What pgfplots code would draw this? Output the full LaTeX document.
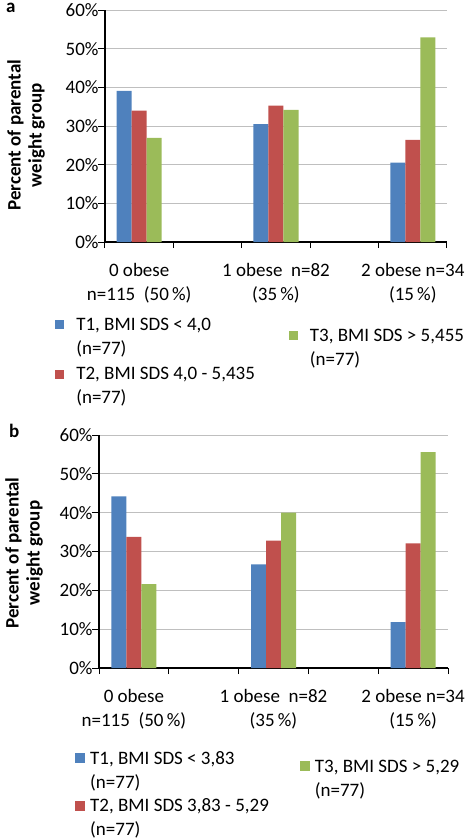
\documentclass[border=0pt]{standalone}
\usepackage{pgfplots}
\pgfplotsset{compat=1.18}
\usepackage{fontspec}
\setmainfont{Carlito}
\definecolor{xblue}{HTML}{4F81BD}
\definecolor{xred}{HTML}{C0504D}
\definecolor{xgreen}{HTML}{9BBB59}
\newcommand{\ff}{\fontsize{19}{24}\selectfont}
\newcommand{\lt}[2]{\vtop{\hbox{\strut #1}\hbox{\strut #2}}}
\pgfplotsset{
  excel/.style={
    scale only axis,
    ybar=0pt, bar width=15pt,
    ymin=0, ymax=60, ytick={0,10,...,60},
    yticklabels={0\%,10\%,20\%,30\%,40\%,50\%,60\%},
    xmin=-0.5, xmax=4.5,
    xtick={0,2,4},
    xticklabels={{0 obese\\n=115~~(50\,\%)},{1 obese~~n=82\\(35\,\%)},{2 obese n=34\\(15\,\%)}},
    minor xtick={-0.5,0.5,...,4.5},
    major x tick style={draw=none},
    minor tick length=6pt,
    major tick length=7pt,
    tick align=outside,
    axis x line*=bottom, axis y line*=left,
    axis line style={-, black, line width=1.2pt},
    tick style={black, line width=1pt},
    ymajorgrids, grid style={gray!50, line width=0.8pt},
    ticklabel style={font=\ff},
    xticklabel style={align=center, yshift=-11pt},
    yticklabel style={xshift=4pt},
    ylabel={Percent of parental\\weight group},
    ylabel style={align=center, font=\bfseries\fontsize{19}{21}\selectfont, inner sep=0pt, anchor=south},
    legend image code/.code={\fill[##1] (0pt,1pt) rectangle (9pt,10pt);},
    legend style={draw=none, fill=none, inner sep=0pt, font=\ff,
      cells={anchor=base west}},
    legend columns=2, transpose legend,
  },
  sqb/.style={legend image code/.code={\fill[##1] (0pt,1pt) rectangle (10pt,11pt);}},
  tthreea/.style={legend image code/.code={\fill[##1] (0pt,-10pt) rectangle (9pt,-1pt);}},
  tthreeb/.style={legend image code/.code={\fill[##1] (0pt,-7pt) rectangle (10pt,3pt);}},
}
\begin{document}
\begin{tikzpicture}
\useasboundingbox (0,0) rectangle (470pt,-840pt);
\node[font=\bfseries\fontsize{19}{22}\selectfont, anchor=base west, inner sep=0pt] at (6pt,-13pt) {a};
\node[font=\bfseries\fontsize{19}{22}\selectfont, anchor=base west, inner sep=0pt] at (9pt,-437pt) {b};
\begin{axis}[excel, at={(105pt,-242pt)}, anchor=south west, width=342pt, height=232pt,
  ylabel style={at={(axis description cs:-0.175,0.461)}},
  legend style={at={(axis description cs:-0.146,-0.298)}, anchor=north west,
    /tikz/every odd column/.append style={column sep=10pt},
    /tikz/every even column/.append style={column sep=32pt},
    row sep=21pt}]
\addplot[fill=xblue, draw=none] coordinates {(0,39.1) (2,30.5) (4,20.5)};
\addplot[fill=xred, draw=none] coordinates {(0,34.0) (2,35.3) (4,26.4)};
\addplot[fill=xgreen, draw=none, tthreea] coordinates {(0,26.9) (2,34.2) (4,52.9)};
\legend{\lt{T1, BMI SDS < 4,0}{(n=77)},\lt{T2, BMI SDS 4,0 - 5,435}{(n=77)},\raisebox{-11pt}[0pt][0pt]{\lt{T3, BMI SDS > 5,455}{(n=77)}}}
\end{axis}
\begin{axis}[excel, at={(99pt,-668pt)}, anchor=south west, width=349pt, height=233pt,
  ylabel style={at={(axis description cs:-0.160,0.494)}},
  legend style={at={(axis description cs:-0.0688,-0.331)}, anchor=north west,
    /tikz/every odd column/.append style={column sep=3pt},
    /tikz/every even column/.append style={column sep=29pt},
    row sep=22pt}]
\addplot[fill=xblue, draw=none, sqb] coordinates {(0,44.2) (2,26.7) (4,11.8)};
\addplot[fill=xred, draw=none, sqb] coordinates {(0,33.8) (2,32.8) (4,32.1)};
\addplot[fill=xgreen, draw=none, tthreeb] coordinates {(0,21.6) (2,40.0) (4,55.6)};
\legend{\lt{T1, BMI SDS < 3,83}{(n=77)},\lt{T2, BMI SDS 3,83 - 5,29}{(n=77)},\raisebox{-8pt}[0pt][0pt]{\lt{T3, BMI SDS > 5,29}{(n=77)}}}
\end{axis}
\end{tikzpicture}
\end{document}
